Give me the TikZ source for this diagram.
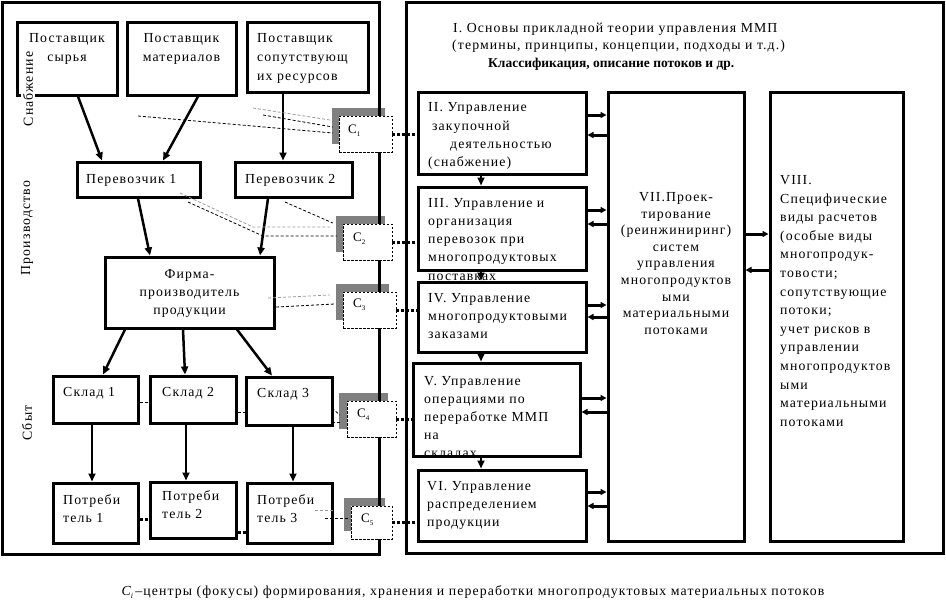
\documentclass[tikz,border=0pt]{standalone}
\usepackage{fontspec}
\setmainfont{Liberation Serif}[LetterSpace=8]
\usetikzlibrary{arrows.meta,calc}
\newcommand\txl[6]{\foreach \mytext [count=\myi] in {#6} {\node[tx,anchor=#2] (#1\myi) at (#3,{#4+#5*(\myi-1)}) {\mytext};}}
\newcommand\csub[1]{C\raisebox{-3.5pt}{\fontsize{7}{7}\selectfont #1}}
\begin{document}
\begin{tikzpicture}[x=1pt,y=-1pt,
  bx/.style={draw, line width=3pt, inner sep=0},
  pnl/.style={draw, line width=3pt},
  tx/.style={inner sep=0, font=\fontsize{13.8}{15}\selectfont},
  ctx/.style={inner sep=0, font=\fontsize{13}{14}\selectfont},
  shd/.style={fill=black!50, inner sep=0},
  cbx/.style={draw, line width=0.8pt, dash pattern=on 2.5pt off 1.5pt, fill=white, inner sep=0},
  arr/.style={line width=2.5pt, -{Triangle[length=8pt,width=7pt]}},
  harr/.style={line width=3pt, -{Triangle[length=6pt,width=6pt]}},
  dotc/.style={line width=3pt, dash pattern=on 3pt off 2pt},
  dl/.style={line width=0.8pt, dash pattern=on 3pt off 2pt},
  gl/.style={dl, draw=black!40}]
\useasboundingbox (0,0) rectangle (946,614);

% shadows of C boxes
\node[shd, minimum width=53pt, minimum height=36pt] (g1) at (358.5,126) {};
\node[shd, minimum width=49pt, minimum height=36pt] (g2) at (360.5,234) {};
\node[shd, minimum width=53pt, minimum height=36pt] (g3) at (362.5,302) {};
\node[shd, minimum width=49pt, minimum height=36pt] (g4) at (363.5,411) {};
\node[shd, minimum width=41pt, minimum height=33pt] (g5) at (364.5,514.5) {};

% panels
\node[pnl, minimum width=377pt, minimum height=552pt, inner sep=0] (lp) at (190.5,278) {};
\node[pnl, minimum width=537pt, minimum height=551pt, inner sep=0] (rp) at (674.5,277.5) {};

% left boxes
\node[bx, minimum width=100pt, minimum height=73pt] (s1) at (67,58.5) {};
\node[bx, minimum width=109pt, minimum height=73pt] (s2) at (181.5,58.5) {};
\node[bx, minimum width=121pt, minimum height=70pt] (s3) at (307.5,57) {};
\node[bx, minimum width=123pt, minimum height=35pt] (p1) at (138.5,179.5) {};
\node[bx, minimum width=117pt, minimum height=35pt] (p2) at (293.5,179.5) {};
\node[bx, minimum width=169pt, minimum height=71pt] (f) at (189.5,292.5) {};
\node[bx, minimum width=85pt, minimum height=47pt] (k1) at (95.5,399.5) {};
\node[bx, minimum width=86pt, minimum height=47pt] (k2) at (193,399.5) {};
\node[bx, minimum width=86pt, minimum height=48pt] (k3) at (289,401) {};
\node[bx, minimum width=85pt, minimum height=60pt] (c1) at (95.5,513) {};
\node[bx, minimum width=86pt, minimum height=56pt] (c2) at (193,510) {};
\node[bx, minimum width=85pt, minimum height=60pt] (c3) at (289.5,513) {};

% side labels
\node[tx, rotate=90, fill=white, inner sep=1.5pt] (lab1) at (28,89) {Снабжение};
\node[tx, rotate=90] (lab2) at (27,228) {Производство};
\node[tx, rotate=90] (lab3) at (27,423) {Сбыт};

% left texts
\txl{s1t}{base}{67}{42}{19}{Поставщик,сырья}
\txl{s2t}{base}{181.5}{42}{19}{Поставщик,материалов}
\txl{s3t}{base west}{257}{42}{19}{Поставщик,сопутствующ,их ресурсов}
\node[tx, anchor=base west] (p1t) at (86,183) {Перевозчик 1};
\node[tx, anchor=base west] (p2t) at (245,183) {Перевозчик 2};
\txl{ft}{base}{189.5}{278}{18}{Фирма-,производитель,продукции}
\node[tx, anchor=base west] (k1t) at (63,396) {Склад 1};
\node[tx, anchor=base west] (k2t) at (162,396) {Склад 2};
\node[tx, anchor=base west] (k3t) at (257,397) {Склад 3};
\txl{c1t}{base west}{63}{504}{18}{Потреби,тель 1}
\txl{c2t}{base west}{162}{500}{18}{Потреби,тель 2}
\txl{c3t}{base west}{257}{504}{18}{Потреби,тель 3}

% left arrows
\draw[arr] ($(s1.south)+(11,0)$) -- ($(p1.north)+(-36.5,0)$);
\draw[arr] ($(s2.south)+(16.5,0)$) -- ($(p1.north)+(24.5,0)$);
\draw[arr] ($(s3.south)+(-24.5,0)$) -- ($(p2.north)+(-10.5,0)$);
\draw[arr] ($(p1.south)+(-0.5,0)$) -- ($(f.north)+(-39.5,0)$);
\draw[arr] ($(p2.south)+(-25.5,0)$) -- ($(f.north)+(70.5,0)$);
\draw[arr] ($(f.south)+(-64.5,0)$) -- ($(k1.north)+(7.5,0)$);
\draw[arr] ($(f.south)+(-6.5,0)$) -- ($(k2.north)+(-8,0)$);
\draw[arr] ($(f.south)+(47.5,0)$) -- ($(k3.north)+(-17,0)$);
\draw[arr] ($(k1.south)+(-3.5,0)$) -- ($(c1.north)+(-3.5,0)$);
\draw[arr] ($(k2.south)+(-7,0)$) -- ($(c2.north)+(-7,0)$);
\draw[arr] ($(k3.south)+(4,0)$) -- ($(c3.north)+(3.5,0)$);

% thin dashed links
\coordinate (d1) at (138,116);
\coordinate (d2) at (253,108);
\coordinate (d3) at (263,115);
\draw[dl] (d1) -- ($(g1.west)+(1,7)$);
\draw[gl] (d2) -- ($(g1.west)+(-2,-6)$);
\draw[dl] (d3) -- ($(g1.west)+(1,1)$);
\coordinate (e1) at (180,193);
\coordinate (e2) at (188,202);
\coordinate (e3) at (285,202);
\draw[gl] (e1) -- (253,227) -- ($(g2.west)+(-6,-7)$);
\draw[dl] (e2) -- (263,236) -- ($(g2.west)+(1,2)$);
\draw[dl] (e3) -- ($(g2.west)+(-3,-11)$);
\draw[gl] (268,298) -- ($(g3.west)+(-6,-7)$);
\draw[dl] (276,307) -- ($(g3.west)+(-1,2)$);
\draw[dl] (332,408) -- ($(g4.west)+(1,4)$);
\draw[dl] (332,422) -- ($(g4.west)+(1,11)$);
\draw[gl] (315,510) -- ($(g5.west)+(-11,-4.5)$);
\draw[dl] (325,518) -- ($(g5.west)+(6,3.5)$);
\draw[dl] (k1.east |- 0,402) -- (k2.west |- 0,402);
\draw[dl] (k2.east |- 0,412) -- (k3.west |- 0,412);
\draw[dotc] (c1.east |- 0,519) -- (c2.west |- 0,519);
\draw[dotc] (c2.east |- 0,532) -- (c3.west |- 0,532);

% C boxes
\node[cbx, minimum width=53pt, minimum height=36pt] (C1) at (365.5,134) {};
\node[cbx, minimum width=49pt, minimum height=36pt] (C2) at (367.5,242) {};
\node[cbx, minimum width=53pt, minimum height=36pt] (C3) at (369.5,310) {};
\node[cbx, minimum width=49pt, minimum height=36pt] (C4) at (371.5,419) {};
\node[cbx, minimum width=41pt, minimum height=33pt] (C5) at (371.5,522.5) {};
\node[ctx, anchor=base west] (C1t) at (348,133) {\csub{1}};
\node[ctx, anchor=base west] (C2t) at (353,241) {\csub{2}};
\node[ctx, anchor=base west] (C3t) at (353,307) {\csub{3}};
\node[ctx, anchor=base west] (C4t) at (357,417) {\csub{4}};
\node[ctx, anchor=base west] (C5t) at (361,522) {\csub{5}};

% right title
\node[tx, anchor=base west] (t1) at (453,32) {I. Основы прикладной теории управления ММП};
\node[tx, anchor=base west] (t2) at (452,49.5) {(термины, принципы, концепции, подходы и т.д.)};
\node[tx, anchor=base west, font=\fontsize{13.5}{15}\selectfont\bfseries\addfontfeature{LetterSpace=0}] (t3) at (488,67.5) {Классификация, описание потоков и др.};

% right blocks
\node[bx, minimum width=168pt, minimum height=82pt] (r2) at (502,133) {};
\node[bx, minimum width=168pt, minimum height=83pt] (r3) at (502,228.5) {};
\node[bx, minimum width=168pt, minimum height=70pt] (r4) at (502,317) {};
\node[bx, minimum width=167pt, minimum height=93pt] (r5) at (496.5,409.5) {};
\node[bx, minimum width=168pt, minimum height=71pt] (r6) at (502,505.5) {};
\node[bx, minimum width=136pt, minimum height=449pt] (r7) at (676,316.5) {};
\node[bx, minimum width=133pt, minimum height=449pt] (r8) at (836.5,316.5) {};

\node[tx, anchor=base west] (r2t1) at (428,111) {II. Управление};
\node[tx, anchor=base west] (r2t2) at (432,130) {закупочной};
\node[tx, anchor=base west] (r2t3) at (450,148) {деятельностью};
\node[tx, anchor=base west] (r2t4) at (428,166) {(снабжение)};
\begin{scope}
\clip (410,185) rectangle (600,280.5);
\txl{r3t}{base west}{428}{207}{18.25}{III. Управление и,организация,перевозок при,многопродуктовых,поставках}
\end{scope}
\txl{r4t}{base west}{428}{302}{18}{IV. Управление,многопродуктовыми,заказами}
\begin{scope}
\clip (405,360) rectangle (600,456.5);
\txl{r5t}{base west}{424}{385}{18}{V. Управление,операциями по,переработке ММП,на,складах}
\end{scope}
\txl{r6t}{base west}{427}{490}{18}{VI. Управление,распределением,продукции}
\txl{r7t}{base}{676}{201.5}{16.6}{VII.Проек-,тирование,{(реинжиниринг)},систем,управления,многопродуктов,ыми,материальными,потоками}
\txl{r8t}{base west}{780}{184.5}{18.6}{VIII.,Специфические,виды расчетов,{(особые виды},многопродук-,товости;,сопутствующие,потоки;,учет рисков в,управлении,многопродуктов,ыми,материальными,потоками}

% vertical arrows right
\draw[arr] ($(r2.south)+(-21,0)$) -- ($(r3.north)+(-21,0)$);
\draw[arr] ($(r3.south)+(-21,0)$) -- ($(r4.north)+(-21,0)$);
\draw[arr] ($(r4.south)+(-21,0)$) -- ($(r5.north)+(-15.5,0)$);
\draw[arr] ($(r5.south)+(-15.5,0)$) -- ($(r6.north)+(-21,0)$);

% horizontal arrows
\draw[harr] ($(r2.east)+(0,-18)$) -- ($(r2.east -| r7.west)+(0,-18)$);
\draw[harr] ($(r2.east -| r7.west)+(0,2)$) -- ($(r2.east)+(0,2)$);
\draw[harr] ($(r3.east)+(0,-18.5)$) -- ($(r3.east -| r7.west)+(0,-18.5)$);
\draw[harr] ($(r3.east -| r7.west)+(0,-4.5)$) -- ($(r3.east)+(0,-4.5)$);
\draw[harr] ($(r4.east)+(0,-12)$) -- ($(r4.east -| r7.west)+(0,-12)$);
\draw[harr] ($(r4.east -| r7.west)+(0,0)$) -- ($(r4.east)+(0,0)$);
\draw[harr] ($(r5.east)+(0,-11.5)$) -- ($(r5.east -| r7.west)+(0,-11.5)$);
\draw[harr] ($(r5.east -| r7.west)+(0,2.5)$) -- ($(r5.east)+(0,2.5)$);
\draw[harr] ($(r6.east)+(0,-13.5)$) -- ($(r6.east -| r7.west)+(0,-13.5)$);
\draw[harr] ($(r6.east -| r7.west)+(0,0.5)$) -- ($(r6.east)+(0,0.5)$);
\draw[harr] ($(r7.east)+(0,-82.5)$) -- ($(r7.east -| r8.west)+(0,-82.5)$);
\draw[harr] ($(r7.east -| r8.west)+(0,-46.5)$) -- ($(r7.east)+(0,-46.5)$);

% C to blocks
\draw[dotc] (C1.east) -- (C1.east -| r2.west);
\draw[dotc] (C2.east) -- (C2.east -| r3.west);
\draw[dotc] (C3.east) -- (C3.east -| r4.west);
\draw[dotc] (C4.east) -- (C4.east -| r5.west);
\draw[dotc] (C5.east) -- (C5.east -| r6.west);

% caption
\node[tx, anchor=base] (cap) at (473,595) {{\itshape C\raisebox{-3pt}{\fontsize{8}{8}\selectfont i}}\,–центры (фокусы) формирования, хранения и переработки многопродуктовых материальных потоков};
\end{tikzpicture}
\end{document}
